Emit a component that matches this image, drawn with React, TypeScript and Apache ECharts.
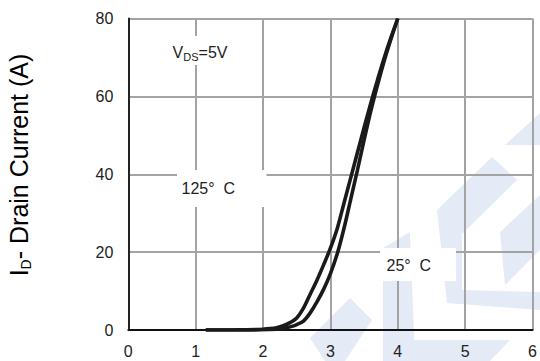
import React, { useEffect, useRef } from "react";
import * as echarts from "echarts";

// V_GS (V) vs I_D (A)
const vgs125 = [1.15, 1.6, 1.9, 2.0, 2.1, 2.2, 2.3, 2.4, 2.5, 2.6, 2.7, 2.8, 2.9, 3.0, 3.1, 3.2, 3.3, 3.4, 3.5, 3.6, 3.7, 3.8, 3.9, 4.0];
const id125 = [0, 0.02, 0.1, 0.2, 0.35, 0.6, 1.1, 1.9, 3.1, 5.6, 9.2, 12.8, 16.8, 21.0, 26.0, 32.5, 39.0, 45.5, 52.0, 58.3, 64.3, 70.0, 75.2, 80];
const vgs25 = [1.15, 1.8, 2.0, 2.2, 2.3, 2.4, 2.5, 2.6, 2.7, 2.8, 2.9, 3.0, 3.1, 3.2, 3.3, 3.4, 3.5, 3.6, 3.7, 3.8, 3.9, 4.0];
const id25 = [0, 0.02, 0.08, 0.2, 0.4, 0.8, 1.4, 2.3, 4.4, 7.2, 10.5, 14.5, 19.5, 26.0, 33.5, 41.0, 48.8, 56.3, 63.0, 69.2, 74.8, 80];

const xTicks = [0, 1, 2, 3, 4, 5, 6];
const yTicks = [0, 20, 40, 60, 80];

const FONT = "'Liberation Sans', Arial, sans-serif";
const WM = "#e4eaf6";

const watermark = [
  [[505, 145], [540, 113], [540, 145]],
  [[437, 210], [492, 157], [517, 180], [462, 234]],
  [[437, 210], [462, 234], [462, 290], [540, 292], [540, 310], [447, 303]],
  [[500, 232], [540, 195], [540, 250], [505, 285]],
  [[310, 338], [350, 298], [372, 320], [345, 361], [325, 361]],
  [[383, 248], [410, 232], [415, 361], [383, 361]],
  [[400, 340], [510, 340], [490, 361], [400, 361]],
];

export default function App() {
  const ref = useRef<HTMLDivElement>(null);
  useEffect(() => {
    if (!ref.current) return;
    const chart = echarts.init(ref.current, null, { renderer: "svg" });
    const line = (v: number[], i: number[]) => v.map((x, k) => [x, i[k]]);
    const graphic: any[] = [];
    watermark.forEach((pts) =>
      graphic.push({ type: "polygon", z: -10, silent: true, shape: { points: pts }, style: { fill: WM } })
    );
    // white label boxes
    graphic.push({ type: "rect", z: 50, shape: { x: 165, y: 36, width: 70, height: 29 }, style: { fill: "#fff" } });
    graphic.push({ type: "rect", z: 50, shape: { x: 177, y: 170, width: 89.5, height: 37 }, style: { fill: "#fff" } });
    graphic.push({ type: "rect", z: 50, shape: { x: 380, y: 248, width: 76, height: 33 }, style: { fill: "#fff" } });
    // V_DS=5V
    graphic.push({ type: "text", z: 60, x: 172.5, y: 52, style: { text: "V", font: `16px ${FONT}`, fill: "#222", textVerticalAlign: "middle" } });
    graphic.push({ type: "text", z: 60, x: 183.3, y: 56.5, style: { text: "DS", font: `11px ${FONT}`, fill: "#222", textVerticalAlign: "middle" } });
    graphic.push({ type: "text", z: 60, x: 198.6, y: 52, style: { text: "=5V", font: `16px ${FONT}`, fill: "#222", textVerticalAlign: "middle" } });
    graphic.push({ type: "text", z: 60, x: 181.5, y: 188, style: { text: "125°  C", font: `16px ${FONT}`, fill: "#222", textVerticalAlign: "middle" } });
    graphic.push({ type: "text", z: 60, x: 386.5, y: 265.5, style: { text: "25°  C", font: `16px ${FONT}`, fill: "#222", textVerticalAlign: "middle" } });
    // y axis name
    graphic.push({
      type: "text",
      z: 60,
      x: 19,
      y: 165,
      rotation: Math.PI / 2,
      style: {
        text: "{a|I}{b|D}{a|- Drain Current (A)}",
        textAlign: "center",
        textVerticalAlign: "middle",
        rich: {
          a: { fontSize: 25, fontFamily: FONT, color: "#222", lineHeight: 28, verticalAlign: "middle" },
          b: { fontSize: 14, fontFamily: FONT, color: "#222", lineHeight: 12, verticalAlign: "bottom" },
        },
      },
    });

    chart.setOption({
      animation: false,
      backgroundColor: "#fff",
      grid: { left: 128.3, right: 3.4, top: 18.5, bottom: 31 },
      xAxis: {
        type: "value",
        min: xTicks[0],
        max: xTicks[xTicks.length - 1],
        interval: 1,
        axisLine: { show: true, onZero: false, lineStyle: { color: "#111", width: 2 } },
        axisTick: { show: false },
        axisLabel: { color: "#222", fontSize: 16, fontFamily: FONT, margin: 13, showMaxLabel: true },
        splitLine: { show: true, lineStyle: { color: "#a3a3a3", width: 2 } },
      },
      yAxis: {
        type: "value",
        min: yTicks[0],
        max: yTicks[yTicks.length - 1],
        interval: 20,
        axisLine: { show: true, onZero: false, lineStyle: { color: "#222", width: 2 } },
        axisTick: { show: false },
        axisLabel: { color: "#222", fontSize: 16, fontFamily: FONT, margin: 15 },
        splitLine: { show: true, lineStyle: { color: "#a3a3a3", width: 2 } },
      },
      graphic,
      series: [
        {
          name: "125°C",
          type: "line",
          data: line(vgs125, id125),
          showSymbol: false,
          smooth: 0.3,
          lineStyle: { color: "#1a1a1a", width: 3.6 },
          z: 5,
        },
        {
          name: "25°C",
          type: "line",
          data: line(vgs25, id25),
          showSymbol: false,
          smooth: 0.3,
          lineStyle: { color: "#1a1a1a", width: 3.6 },
          z: 5,
        },
      ],
    });
    return () => chart.dispose();
  }, []);
  return <div ref={ref} style={{ width: 540, height: 361, position: "absolute", left: 0, top: 0 }} />;
}
